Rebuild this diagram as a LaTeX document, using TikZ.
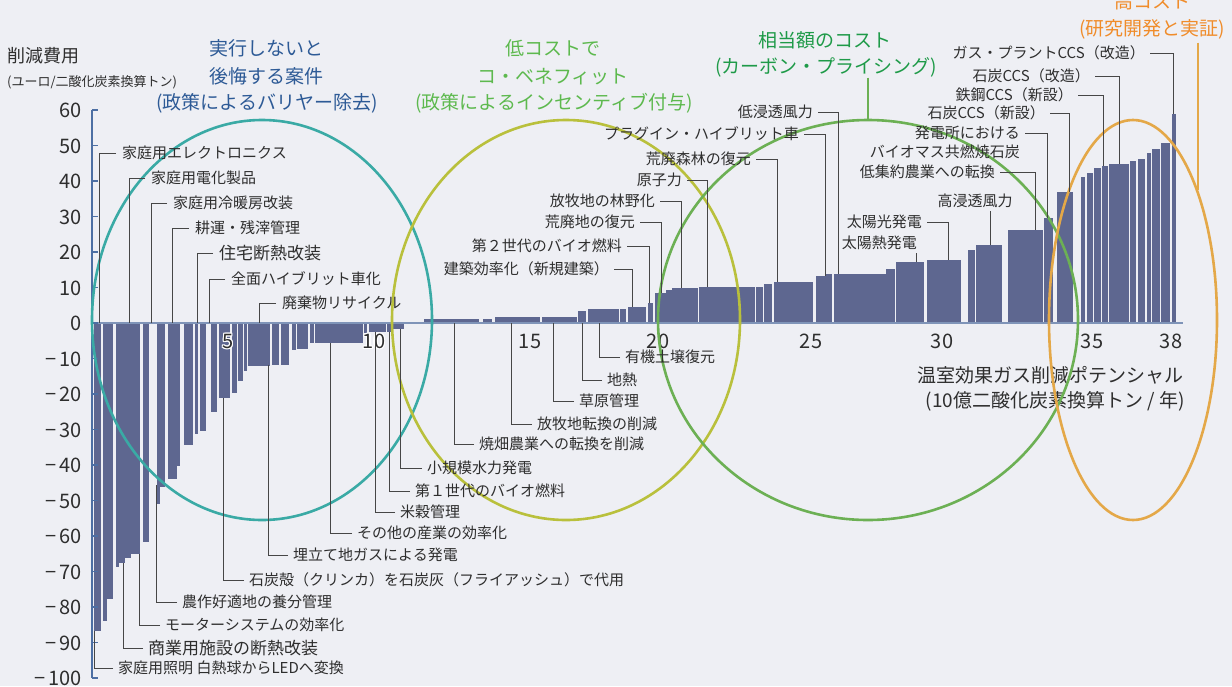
\documentclass[tikz,border=0pt]{standalone}
\usepackage{fontspec}
\setmainfont{Noto Sans CJK JP}
\newcommand\myfs[1]{\fontsize{#1}{#1}\selectfont}
\definecolor{bgc}{RGB}{238,239,244}
\definecolor{barc}{RGB}{94,103,144}
\definecolor{axc}{RGB}{77,111,163}
\definecolor{basec}{RGB}{127,148,184}
\definecolor{txt}{RGB}{46,46,46}
\definecolor{leadc}{RGB}{70,70,70}
\definecolor{tealt}{RGB}{45,90,150}
\definecolor{ltgreent}{RGB}{93,185,78}
\definecolor{greent}{RGB}{30,154,72}
\definecolor{oranget}{RGB}{240,140,42}
\definecolor{tealc}{RGB}{58,170,165}
\definecolor{olivec}{RGB}{185,192,60}
\definecolor{greenc}{RGB}{108,176,84}
\definecolor{orangec}{RGB}{228,168,72}
\tikzset{
  lab/.style={font=\myfs{15}, text=txt, inner sep=0pt, text height=13.2pt, text depth=1.8pt},
  labbig/.style={font=\myfs{17}, text=txt, inner sep=0pt, text height=15pt, text depth=2pt},
  tick/.style={font=\myfs{20}, text=txt, inner sep=0pt, text height=17.6pt, text depth=2.4pt},
  ttl/.style={font=\myfs{19}, inner sep=0pt, text height=16.7pt, text depth=2.3pt},
  lead/.style={draw=leadc, line width=0.9pt},
  ell/.style={line width=2.6pt},
}
\begin{document}
\begin{tikzpicture}[x=1pt,y=-1pt]
\useasboundingbox (0,0) rectangle (1232,686);
\fill[bgc] (0,0) rectangle (1232,686);

% negative bars
\foreach \a/\b/\c in {93.5/100.5/631, 102.7/107.3/621, 107.3/112.7/599,
  116/119.3/567, 119.3/125/563, 125/131/558, 131/140/554, 143.3/149/542,
  157/159.7/504, 159.7/164.7/487, 168/176.7/479, 176.7/180/466, 184/192.7/445,
  195.3/197.7/434, 200/205.7/431, 211/217/412, 219/230/398, 232/236.7/393,
  237.7/242.7/381, 243.7/247/371, 248/270/366, 272/278.7/365, 281/288.7/365,
  292/295.7/350, 297/308/349, 310/314/343, 315/363/343, 364.3/366.7/333,
  368.7/386/332, 387/390.7/332, 391.7/403.7/329}
  \fill[barc] (\a,323) rectangle (\b,\c);
% positive bars
\foreach \a/\b/\c in {424/479/319, 483/492/319, 495/540/317, 542/577/317,
  578/586/311, 588/619/309, 620/626/309, 628/646/307, 648/653/303,
  655/666/293, 666/672/290, 672/698/288, 699/755/287, 756/763/287,
  764/772/284, 774/813/282, 816/826/276, 826/831.7/274, 834/886/274,
  886/895/269, 896/924/262, 927/961/260, 968/975/250, 976/1002/245,
  1008/1043/230, 1044/1053/218, 1057/1073/192, 1081/1085/177, 1087/1093/173,
  1094/1101/168, 1102/1108/166, 1109/1129/164, 1130/1136/161, 1138/1145/159,
  1147/1151/153, 1152/1160/149, 1161/1170/143, 1172/1176/114}
  \fill[barc] (\a,323) rectangle (\b,\c);

% axes
\draw[basec, line width=1.5pt] (92,323) -- (1183,323);
\draw[axc, line width=1.3pt] (92,110) -- (92,678);
\foreach \v/\t in {60/60,50/50,40/40,30/30,20/20,10/10,0/0,-10/−\,10,-20/−\,20,-30/−\,30,-40/−\,40,-50/−\,50,-60/−\,60,-70/−\,70,-80/−\,80,-90/−\,90,-100/−\,100}{
  \draw[axc, line width=1.2pt] (92,323-\v*3.55) -- (98,323-\v*3.55);
  \node[tick, anchor=east] (y\v) at (82,323-\v*3.55) {\t};
}

% x tick labels (5 and 10 with white halo)
\foreach \dx/\dy in {-1.3/0,1.3/0,0/-1.3,0/1.3,-1/-1,1/1,-1/1,1/-1}{
  \node[tick, text=white] at (228+\dx,341+\dy) {5};
  \node[tick, text=white] at (374+\dx,341+\dy) {10};
}
\node[tick] (x5) at (228,341) {5};
\node[tick] (x10) at (374,341) {10};
\node[tick] (x15) at (530,341) {15};
\node[tick] (x20) at (658,341) {20};
\node[tick] (x25) at (811,341) {25};
\node[tick] (x30) at (942,341) {30};
\node[tick] (x35) at (1092,341) {35};
\node[tick] (x38) at (1171,341) {38};

% axis titles
\node[font=\myfs{18}, text=txt, inner sep=0pt, anchor=west] (yt1) at (7,56) {削減費用};
\node[font=\myfs{13}, text=txt, inner sep=0pt, anchor=west] (yt2) at (7,82) {(ユーロ/二酸化炭素換算トン)};
\node[ttl, text=txt, anchor=east] (xt1) at (1184,375) {温室効果ガス削減ポテンシャル};
\node[ttl, text=txt, anchor=east] (xt2) at (1185,400) {(10億二酸化炭素換算トン / 年)};

% ellipses
\draw[ell, tealc] (262,320) ellipse [x radius=170, y radius=200];
\draw[ell, olivec] (566,320) ellipse [x radius=174, y radius=200];
\draw[ell, greenc] (868,320) ellipse [x radius=210, y radius=200];
\draw[ell, orangec] (1133,320) ellipse [x radius=84, y radius=200];

% titles
\node[ttl, text=tealt] (T1) at (266,48) {実行しないと};
\node[ttl, text=tealt] (T2) at (266,76) {後悔する案件};
\node[ttl, text=tealt] (T3) at (267,102) {(政策によるバリヤー除去)};
\node[ttl, text=ltgreent] (C1) at (553,48) {低コストで};
\node[ttl, text=ltgreent] (C2) at (553,76) {コ・ベネフィット};
\node[ttl, text=ltgreent] (C3) at (554,102) {(政策によるインセンティブ付与)};
\node[ttl, text=greent] (G1) at (825,40) {相当額のコスト};
\node[ttl, text=greent] (G2) at (826,66) {(カーボン・プライシング)};
\node[ttl, text=oranget] (O1) at (1152,1) {高コスト};
\node[ttl, text=oranget] (O2) at (1152,28) {(研究開発と実証)};
\coordinate (gtop) at (868,120);
\coordinate (otop) at (1198,190);
\draw[greenc, line width=2pt] ([yshift=-2pt]gtop |- G2.south) -- (gtop);
\draw[orangec, line width=2pt] ([yshift=-5pt]otop |- O2.south) -- (otop);

% upper-left labels
\node[lab, anchor=west] (L1) at (122,153) {家庭用エレクトロニクス};
\node[lab, anchor=west] (L2) at (151,178) {家庭用電化製品};
\node[lab, anchor=west] (L3) at (173,203) {家庭用冷暖房改装};
\node[lab, anchor=west] (L4) at (195,228) {耕運・残滓管理};
\node[labbig, anchor=west] (L5) at (219,253) {住宅断熱改装};
\node[lab, anchor=west] (L6) at (231,279) {全面ハイブリット車化};
\node[lab, anchor=west] (L7) at (282,303) {廃棄物リサイクル};
\foreach \n/\x in {1/99,2/129,3/151,4/172,5/197,6/209,7/259}{
  \coordinate (l\n e) at (\x,323);
  \draw[lead] ([xshift=-6pt]L\n.west) -| (l\n e);
}

% lower labels
\node[lab, anchor=west] (D1) at (118,668) {家庭用照明 白熱球からLEDへ変換};
\node[labbig, anchor=west] (D2) at (148,648) {商業用施設の断熱改装};
\node[lab, anchor=west] (D3) at (165,625) {モーターシステムの効率化};
\node[lab, anchor=west] (D4) at (182,602) {農作好適地の養分管理};
\node[lab, anchor=west] (D5) at (249,580) {石炭殻（クリンカ）を石炭灰（フライアッシュ）で代用};
\node[lab, anchor=west] (D6) at (293,555) {埋立て地ガスによる発電};
\node[lab, anchor=west] (D7) at (357,533) {その他の産業の効率化};
\node[lab, anchor=west] (D8) at (400,512) {米穀管理};
\node[lab, anchor=west] (D9) at (415,491) {第１世代のバイオ燃料};
\node[lab, anchor=west] (D10) at (427,468) {小規模水力発電};
\node[lab, anchor=west] (D11) at (479,444) {焼畑農業への転換を削減};
\node[lab, anchor=west] (D12) at (537,424) {放牧地転換の削減};
\node[lab, anchor=west] (D13) at (579,401) {草原管理};
\node[lab, anchor=west] (D14) at (607,380) {地熱};
\node[lab, anchor=west] (D15) at (625,357) {有機土壌復元};
\foreach \n/\x/\y in {1/94/631,2/123/563,3/139/554,4/156/485,5/223/398,6/268/365,
  7/330/343,8/375/332,9/389/332,10/400/329,11/454/323,12/511/323,13/553/323,14/582/323,15/599/323}{
  \coordinate (d\n e) at (\x,\y);
  \draw[lead] ([xshift=-5pt]D\n.west) -| (d\n e);
}

% upper-middle labels
\node[lab, anchor=east] (U1) at (609,269) {建築効率化（新規建築）};
\node[lab, anchor=east] (U2) at (622,246) {第２世代のバイオ燃料};
\node[lab, anchor=east] (U3) at (635,222) {荒廃地の復元};
\node[lab, anchor=east] (U4) at (655,201) {放牧地の林野化};
\node[lab, anchor=east] (U5) at (682,180) {原子力};
\node[lab, anchor=east] (U6) at (751,159) {荒廃森林の復元};
\node[lab, anchor=east] (U7) at (799,134) {プラグイン・ハイブリット車};
\node[lab, anchor=east] (U8) at (813,112) {低浸透風力};
\node[lab, anchor=east] (U9) at (922,222) {太陽光発電};
\node[lab, anchor=east] (U12) at (995,172) {低集約農業への転換};
\node[lab, anchor=east] (U13) at (1020,133) {発電所における};
\node[lab, anchor=east] (U13b) at (1020,152) {バイオマス共燃焼石炭};
\node[lab, anchor=east] (U14) at (1045,113) {石炭CCS（新設）};
\node[lab, anchor=east] (U15) at (1073,95) {鉄鋼CCS（新設）};
\node[lab, anchor=east] (U16) at (1090,76) {石炭CCS（改造）};
\node[lab, anchor=east] (U17) at (1145,53) {ガス・プラントCCS（改造）};
\foreach \n/\x/\y in {1/632/307,2/649/303,3/661/293,4/681/288,5/707/287,6/777/282,
  7/825/276,8/838/274,9/948/260,12/1035/230,13/1047/218,14/1069/192,15/1103/166,16/1119/164,17/1173/114}{
  \coordinate (u\n e) at (\x,\y);
  \draw[lead] ([xshift=5pt]U\n.east) -| (u\n e);
}
\node[lab, anchor=east] (U10) at (917,243) {太陽熱発電};
\coordinate (u10e) at (916,262);
\draw[lead] (u10e) -- ([yshift=-2pt]u10e |- U10.south);
\node[lab] (U11) at (975,201) {高浸透風力};
\coordinate (u11e) at (990,245);
\draw[lead] (u11e) -- ([yshift=-2pt]u11e |- U11.south);
\end{tikzpicture}
\end{document}
